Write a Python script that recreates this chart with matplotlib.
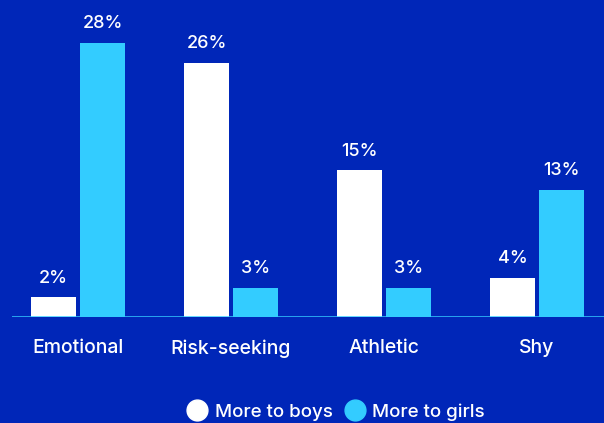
import matplotlib.pyplot as plt
import numpy as np
from matplotlib.lines import Line2D

categories = ['Emotional', 'Risk-seeking', 'Athletic', 'Shy']
boys = [2, 26, 15, 4]
girls = [28, 3, 3, 13]

bg = '#0026b8'
white = '#ffffff'
cyan = '#33ccff'

plt.rcParams['font.family'] = ['Inter', 'DejaVu Sans']

fig = plt.figure(figsize=(6.04, 4.23), dpi=100, facecolor=bg)
ax = fig.add_axes([12 / 604, 106 / 423, 592 / 604, 317 / 423])
ax.set_facecolor(bg)

x = np.arange(len(categories))
w = 45 / 153
off = 24.5 / 153
b1 = ax.bar(x - off, boys, w, color=white)
b2 = ax.bar(x + off, girls, w, color=cyan)

for bars, vals in ((b1, boys), (b2, girls)):
    for rect, v in zip(bars, vals):
        ax.text(rect.get_x() + rect.get_width() / 2, v + 1.1, f'{v}%',
                ha='center', va='bottom', color='white', fontsize=13,
                fontweight='medium')

ax.set_xlim(-66 / 153, 526 / 153)
ax.set_ylim(0, 317 / 9.78)
ax.axhline(0, color=cyan, lw=1.8)

for s in ax.spines.values():
    s.set_visible(False)
ax.set_yticks([])
ax.set_xticks(x)
ax.set_xticklabels(categories, color='white', fontsize=14, fontweight='medium')
ax.tick_params(axis='x', length=0, pad=16)

handles = [Line2D([], [], marker='o', ls='', markersize=15, color=white),
           Line2D([], [], marker='o', ls='', markersize=15, color=cyan)]
fig.legend(handles, ['More to boys', 'More to girls'], loc='center',
           bbox_to_anchor=(335 / 604, 11 / 423), ncol=2, frameon=False,
           prop={'size': 13.5, 'weight': 'medium'}, labelcolor='white',
           handletextpad=0.3, columnspacing=0.5, handlelength=1.3)

fig.savefig('out.png', dpi=100, facecolor=bg)
